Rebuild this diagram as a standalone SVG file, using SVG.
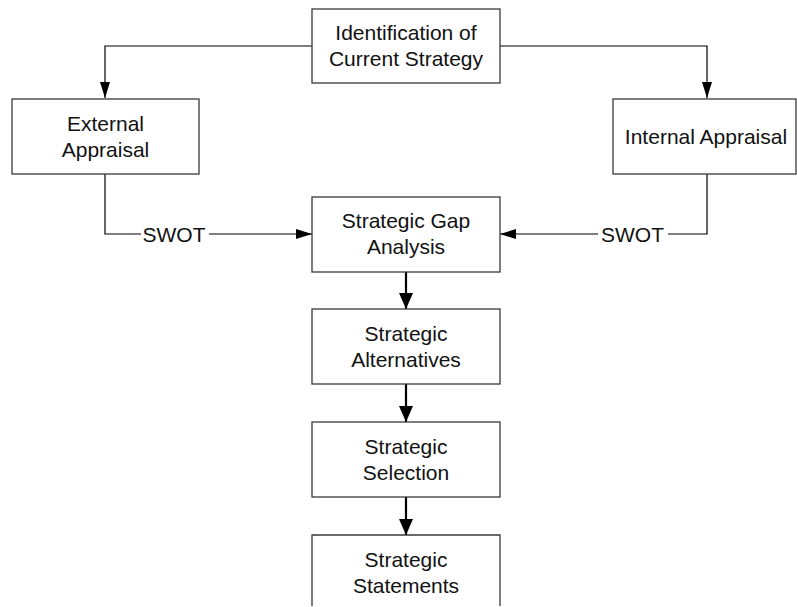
<svg xmlns="http://www.w3.org/2000/svg" width="797" height="607" viewBox="0 0 797 607">
  <style>
    .box { fill: #ffffff; stroke: #3a3a3a; stroke-width: 1.3; }
    .lbl { font-family: "Liberation Sans", Arial, Helvetica, sans-serif; font-size: 21px; fill: #111111; text-anchor: middle; }
    .thin { fill: none; stroke: #000000; stroke-width: 1.2; }
    .thick { fill: none; stroke: #000000; stroke-width: 2.2; }
  </style>
  <defs>
    <marker id="headNarrow" markerUnits="userSpaceOnUse" markerWidth="16" markerHeight="12" refX="16" refY="6" orient="auto">
      <path d="M0,1 L16,6 L0,11 Z" fill="#000000"/>
    </marker>
    <marker id="headWide" markerUnits="userSpaceOnUse" markerWidth="16" markerHeight="16" refX="16" refY="8" orient="auto">
      <path d="M0,1 L16,8 L0,15 Z" fill="#000000"/>
    </marker>
  </defs>

  <rect width="797" height="607" fill="#ffffff"/>

  <g id="connectors">
    <!-- current strategy to the two appraisals -->
    <path class="thin" d="M312,46 H105 V98" marker-end="url(#headNarrow)"/>
    <path class="thin" d="M500,46 H707 V98" marker-end="url(#headNarrow)"/>
    <!-- SWOT feeds into the gap analysis -->
    <path class="thin" d="M105,174 V234 H141"/>
    <path class="thin" d="M209,234 H312" marker-end="url(#headNarrow)"/>
    <text class="lbl" x="174" y="241.5">SWOT</text>
    <path class="thin" d="M707,174 V234 H668"/>
    <path class="thin" d="M598,234 H500" marker-end="url(#headNarrow)"/>
    <text class="lbl" x="632.5" y="241.5">SWOT</text>
    <!-- main vertical chain -->
    <path class="thick" d="M406,272 V309" marker-end="url(#headWide)"/>
    <path class="thick" d="M406,384 V422" marker-end="url(#headWide)"/>
    <path class="thick" d="M406,497 V535" marker-end="url(#headWide)"/>
  </g>

  <g id="current-strategy">
    <rect class="box" x="312" y="9" width="188" height="74"/>
    <text class="lbl" x="406" y="40">Identification of</text>
    <text class="lbl" x="406" y="65.5">Current Strategy</text>
  </g>

  <g id="external-appraisal">
    <rect class="box" x="12" y="99" width="187" height="75"/>
    <text class="lbl" x="105.5" y="131">External</text>
    <text class="lbl" x="105.5" y="156.5">Appraisal</text>
  </g>

  <g id="internal-appraisal">
    <rect class="box" x="613" y="99" width="183" height="75"/>
    <text class="lbl" x="706" y="143.5">Internal Appraisal</text>
  </g>

  <g id="gap-analysis">
    <rect class="box" x="312" y="197" width="188" height="75"/>
    <text class="lbl" x="406" y="228">Strategic Gap</text>
    <text class="lbl" x="406" y="253.5">Analysis</text>
  </g>

  <g id="alternatives">
    <rect class="box" x="312" y="309" width="188" height="75"/>
    <text class="lbl" x="406" y="341">Strategic</text>
    <text class="lbl" x="406" y="366.5">Alternatives</text>
  </g>

  <g id="selection">
    <rect class="box" x="312" y="422" width="188" height="75"/>
    <text class="lbl" x="406" y="454">Strategic</text>
    <text class="lbl" x="406" y="479.5">Selection</text>
  </g>

  <g id="statements">
    <path class="box" d="M312,606 V535 H500 V606"/>
    <text class="lbl" x="406" y="567">Strategic</text>
    <text class="lbl" x="406" y="592.5">Statements</text>
  </g>
</svg>
